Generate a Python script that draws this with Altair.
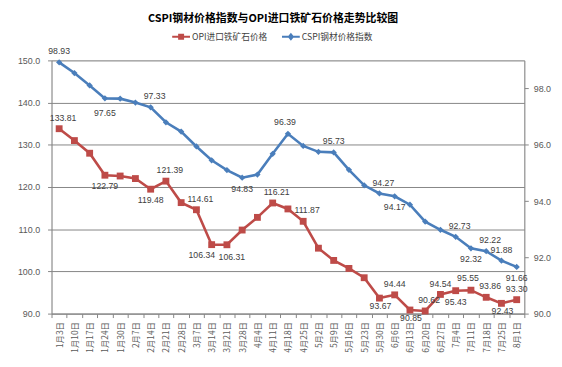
import altair as alt
import pandas as pd

dates = ["1月3日", "1月10日", "1月17日", "1月24日", "1月30日", "2月7日", "2月14日", "2月21日",
         "2月28日", "3月7日", "3月14日", "3月21日", "3月28日", "4月4日", "4月11日", "4月18日",
         "4月25日", "5月2日", "5月9日", "5月16日", "5月23日", "5月30日", "6月6日", "6月13日",
         "6月20日", "6月27日", "7月4日", "7月11日", "7月18日", "7月25日", "8月1日"]

opi = [133.81, 131.0, 128.0, 122.79, 122.6, 122.0, 119.48, 121.39, 116.3, 114.61, 106.34,
       106.31, 109.8, 112.8, 116.21, 114.8, 111.87, 105.5, 102.6, 100.7, 98.5, 93.67, 94.44,
       90.85, 90.62, 94.54, 95.43, 95.55, 93.86, 92.43, 93.30]

cspi = [98.93, 98.55, 98.11, 97.65, 97.64, 97.5, 97.33, 96.8, 96.47, 95.94, 95.45, 95.1,
        94.83, 94.94, 95.68, 96.39, 95.96, 95.75, 95.73, 95.11, 94.56, 94.27, 94.17, 93.87,
        93.27, 92.98, 92.73, 92.32, 92.22, 91.88, 91.66]

# data-label placement (as in the spreadsheet's label position setting)
opi_label_pos = ["upright", "", "", "down", "", "", "down", "upright", "", "upright", "downleft",
                 "downright", "", "", "upright", "", "upright", "", "", "", "", "downnear", "up",
                 "downnear", "upright", "up", "down", "upleft", "upright", "downnear", "up"]
cspi_label_pos = ["up", "", "", "downfar", "", "", "upright", "", "", "", "", "", "down", "", "",
                  "upleft", "", "", "up", "", "", "upright", "down", "", "", "", "upright", "down",
                  "upright", "up", "down"]

S_OPI = "OPI进口铁矿石价格"
S_CSPI = "CSPI钢材价格指数"
series_names = [S_OPI, S_CSPI]
RED = "#BE4B48"
BLUE = "#4A7EBB"
series_colors = [RED, BLUE]

left_ticks = [90, 100, 110, 120, 130, 140, 150]
right_ticks = [90, 92, 94, 96, 98]

df_opi = pd.DataFrame({"date": dates, "value": opi, "pos": opi_label_pos, "series": S_OPI})
df_cspi = pd.DataFrame({"date": dates, "value": cspi, "pos": cspi_label_pos, "series": S_CSPI})

AX = "#868686"
LBL = "#595959"
TXT = "#404040"
NUMFONT = "Liberation Sans"
CJK = "Noto Sans CJK SC"

xenc = alt.X("date:N", sort=dates, bandPosition=0.5,
             scale=alt.Scale(type="band", paddingInner=0, paddingOuter=0),
             axis=alt.Axis(title=None, labelAngle=-90, tickBand="extent", tickSize=4,
                           labelPadding=4, labelFont=CJK, labelFontSize=8.5, labelColor=LBL,
                           domainColor=AX, tickColor=AX, grid=False, labelOverlap=False))

path_opi = "M-1.8,-0.22H1.8V0.22H-1.8Z M-0.6,-0.6H0.6V0.6H-0.6Z"
path_cspi = "M-1.8,-0.22H1.8V0.22H-1.8Z M0,-0.8L0.65,0L0,0.8L-0.65,0Z"

leg = alt.Legend(orient="none", legendX=126, legendY=-29, direction="horizontal", title=None,
                 labelFont=CJK, labelFontSize=8.8, labelColor=TXT, symbolSize=100,
                 labelOffset=6, columnPadding=14, symbolStrokeWidth=0, symbolOpacity=1)

LABEL_OFFSETS = {"up": (0, -11), "upright": (4, -11), "upleft": (-3, -12),
                 "down": (0, 11), "downnear": (1, 8), "downfar": (0, 15),
                 "downleft": (-10, 11), "downright": (5, 12)}
LABEL_SIZE = 8.8


def label_layers(base, y):
    out = []
    for key, (ddx, ddy) in LABEL_OFFSETS.items():
        out.append(base.transform_filter(f"datum.pos == '{key}'").mark_text(
            dx=ddx, dy=ddy, font=NUMFONT, fontSize=LABEL_SIZE, color=TXT).encode(
            x=xenc, y=y, text=alt.Text("value:Q", format=".2f")))
    return out


# ---- OPI (left axis)
y_l = alt.Y("value:Q", scale=alt.Scale(domain=[90, 150], nice=False, zero=False),
            axis=alt.Axis(title=None, values=left_ticks, format=".1f", orient="left",
                          grid=True, gridColor=AX, domainColor=AX, tickColor=AX, tickSize=4,
                          labelPadding=8, labelFont=NUMFONT, labelFontSize=9, labelColor=LBL))
b_opi = alt.Chart(df_opi)
opi_line = b_opi.mark_line(strokeWidth=2.6, color=RED).encode(x=xenc, y=y_l)
opi_pts = b_opi.mark_point(shape="square", filled=True, size=48, opacity=1, color=RED).encode(
    x=xenc, y=y_l)
# legend-only layer (no rows drawn): gives the shared legend its line+marker glyphs
legend_layer = alt.Chart(pd.concat([df_opi, df_cspi])).transform_filter(
    "datum.value < 0").mark_point(filled=True, opacity=1).encode(
    x=xenc, y=y_l,
    color=alt.Color("series:N", scale=alt.Scale(domain=series_names, range=series_colors),
                    legend=leg),
    shape=alt.Shape("series:N", scale=alt.Scale(domain=series_names, range=[path_opi, path_cspi]),
                    legend=leg))
left = alt.layer(opi_line, opi_pts, *label_layers(b_opi, y_l), legend_layer)

# ---- CSPI (right axis)
y_r = alt.Y("value:Q", scale=alt.Scale(domain=[90, 99], nice=False, zero=False),
            axis=alt.Axis(title=None, values=right_ticks, format=".1f", orient="right",
                          grid=False, domainColor=AX, tickColor=AX, tickSize=4,
                          labelPadding=5, labelFont=NUMFONT, labelFontSize=9, labelColor=LBL))
b_cspi = alt.Chart(df_cspi)
cspi_line = b_cspi.mark_line(strokeWidth=2.6, color=BLUE).encode(x=xenc, y=y_r)
cspi_pts = b_cspi.mark_point(shape="diamond", filled=True, size=40, opacity=1, color=BLUE).encode(
    x=xenc, y=y_r)
right = alt.layer(cspi_line, cspi_pts, *label_layers(b_cspi, y_r))

chart = alt.layer(left, right).resolve_scale(y="independent").properties(
    width=478, height=256,
    autosize=alt.AutoSizeParams(type="none"),
    padding={"left": 44, "top": 51, "right": 30, "bottom": 50},
    title=alt.TitleParams("CSPI钢材价格指数与OPI进口铁矿石价格走势比较图", font=CJK, fontSize=11,
                          fontWeight="bold", color="#000000", anchor="middle", dx=-15, offset=8,
                          frame="group"),
).configure_view(stroke=None).configure(background="white")

chart.save("out.html", embed_options={"renderer": "svg", "actions": False})
